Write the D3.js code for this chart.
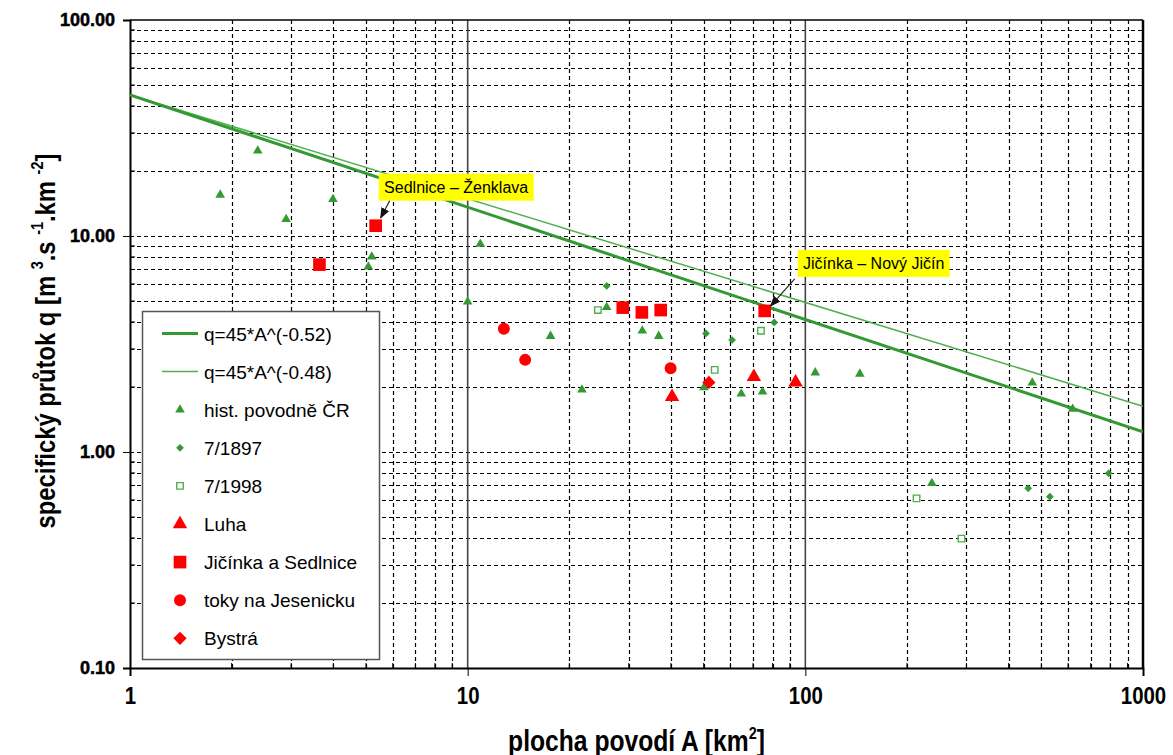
<!DOCTYPE html>
<html><head><meta charset="utf-8">
<script src="https://cdn.jsdelivr.net/npm/d3@7"></script>
<style>
body{margin:0;background:#fff;}
svg{display:block;}
</style></head>
<body>
<svg id="chart" width="1173" height="755"></svg>
<script>
// ---- data (A in km2, q in m3/s/km2) ----
const histA = [1.85, 2.39, 2.90, 3.99, 5.20, 5.08, 10.9, 10.0, 17.6, 21.8, 25.8, 32.9, 36.8, 50.1, 64.6, 74.7, 107, 145, 237, 470, 619];
const histQ = [15.5, 24.8, 11.95, 14.8, 8.02, 7.21, 9.18, 4.96, 3.44, 1.94, 4.68, 3.64, 3.44, 1.99, 1.86, 1.90, 2.33, 2.30, 0.716, 2.09, 1.58];
const y1897A = [25.8, 50.8, 60.7, 80.9, 457, 530, 791];
const y1897Q = [5.87, 3.54, 3.30, 3.98, 0.679, 0.621, 0.797];
const y1998A = [24.3, 53.9, 73.9, 213.5, 290];
const y1998Q = [4.54, 2.40, 3.64, 0.61, 0.397];
const luhaA = [40.3, 70.4, 93.6];
const luhaQ = [1.80, 2.23, 2.10];
const jicA = [3.64, 5.34, 28.8, 32.8, 37.3, 75.8];
const jicQ = [7.37, 11.16, 4.66, 4.43, 4.54, 4.50];
const jesA = [12.8, 14.8, 39.9];
const jesQ = [3.72, 2.67, 2.44];
const bysA = [51.8];
const bysQ = [2.10];
// envelope lines (end points)
const line052A = [1, 1000];
const line052Q = [45, 1.24];
const line048A = [1, 1000];
const line048Q = [45, 1.63];
// tick labels
const yTickVals = [0.1, 1, 10, 100];
const yTickLabels = ["0.10", "1.00", "10.00", "100.00"];
const xTickVals = [1, 10, 100, 1000];
const xTickLabels = ["1", "10", "100", "1000"];
const legendLabels = ["q=45*A^(-0.52)", "q=45*A^(-0.48)", "hist. povodně ČR", "7/1897", "7/1998", "Luha", "Jičínka a Sedlnice", "toky na Jesenicku", "Bystrá"];
const annotations = [
  {text: "Sedlnice – Ženklava", A: 5.34, q: 11.16},
  {text: "Jičínka – Nový Jičín", A: 75.8, q: 4.50}
];

const GREEN = "#339933", GREEN_L = "#4fae4f", RED = "#ff0000";
const FONT = "Liberation Sans, Arial, sans-serif";
const NARROW = 0.85;
const svg = d3.select("#chart");
const L = 130, R = 1143, T = 20, B = 668;
const x = d3.scaleLog().domain([1, 1000]).range([L, R]);
const y = d3.scaleLog().domain([0.1, 100]).range([B, T]);

// grid
const g = svg.append("g");
const xt = x.ticks();
const yt = y.ticks();
g.selectAll(".hg").data(yt.filter(v => v > 0.1 && v < 100)).enter().append("line")
  .attr("x1", L).attr("x2", R).attr("y1", d => Math.round(y(d)) + 0.5).attr("y2", d => Math.round(y(d)) + 0.5)
  .attr("stroke", "#000").attr("stroke-width", 1.2).attr("stroke-dasharray", "4,3");
g.selectAll(".vg").data(xt.filter(v => v > 1 && v < 1000 && ![10, 100].includes(v))).enter().append("line")
  .attr("y1", T).attr("y2", B).attr("x1", d => Math.round(x(d)) + 0.5).attr("x2", d => Math.round(x(d)) + 0.5)
  .attr("stroke", "#000").attr("stroke-width", 1.2).attr("stroke-dasharray", "4,3");
g.selectAll(".vd").data([10, 100]).enter().append("line")
  .attr("y1", T).attr("y2", B).attr("x1", d => x(d)).attr("x2", d => x(d))
  .attr("stroke", "#444").attr("stroke-width", 1.6);

// frame
svg.append("line").attr("x1", L).attr("x2", R).attr("y1", T).attr("y2", T).attr("stroke", "#000").attr("stroke-width", 1.6);
svg.append("line").attr("x1", R).attr("x2", R).attr("y1", T).attr("y2", B).attr("stroke", "#000").attr("stroke-width", 2.5);

// axes
const yAxis = d3.axisLeft(y).tickValues(yTickVals).tickFormat((d, i) => yTickLabels[i]).tickSize(7).tickPadding(8);
const ya = svg.append("g").attr("transform", `translate(${L},0)`).call(yAxis);
ya.select(".domain").attr("stroke-width", 2);
ya.selectAll("text").attr("font-family", FONT).attr("font-weight", "bold").attr("font-size", 18)
  .attr("fill", "#000").attr("stroke", "#000").attr("stroke-width", 0.5);
// minor y ticks (inside)
svg.append("g").selectAll("line").data(yt.filter(v => !yTickVals.includes(v))).enter().append("line")
  .attr("x1", L).attr("x2", L + 5).attr("y1", d => y(d)).attr("y2", d => y(d)).attr("stroke", "#000").attr("stroke-width", 1);

const xAxis = d3.axisBottom(x).tickValues(xTickVals).tickFormat((d, i) => xTickLabels[i]).tickSize(8).tickPadding(11);
const xa = svg.append("g").attr("transform", `translate(0,${B})`).call(xAxis);
xa.select(".domain").attr("stroke-width", 2);
xa.selectAll("text").attr("font-family", FONT).attr("font-weight", "bold").attr("font-size", 24).attr("fill", "#000")
  .attr("transform", `scale(${NARROW},1)`);
svg.append("g").selectAll("line").data(xt.filter(v => !xTickVals.includes(v))).enter().append("line")
  .attr("y1", B).attr("y2", B - 5).attr("x1", d => x(d)).attr("x2", d => x(d)).attr("stroke", "#000").attr("stroke-width", 1);

// axis titles
const xt1 = svg.append("g").attr("transform", `translate(${(L + R) / 2},751) scale(${NARROW},1)`)
  .append("text").attr("text-anchor", "middle")
  .attr("font-family", FONT).attr("font-weight", "bold").attr("font-size", 29);
xt1.append("tspan").text("plocha povodí A [km");
xt1.append("tspan").attr("dy", -12).attr("font-size", 17).text("2");
xt1.append("tspan").attr("dy", 12).text("]");

const yt1 = svg.append("g").attr("transform", `translate(55,341) rotate(-90) scale(${NARROW},1)`)
  .append("text").attr("text-anchor", "middle")
  .attr("font-family", FONT).attr("font-weight", "bold").attr("font-size", 28);
yt1.append("tspan").text("specifický průtok q [m ");
yt1.append("tspan").attr("dy", -12).attr("font-size", 17).text("3");
yt1.append("tspan").attr("dy", 12).text(".s ");
yt1.append("tspan").attr("dy", -12).attr("font-size", 17).text("-1");
yt1.append("tspan").attr("dy", 12).text(".km ");
yt1.append("tspan").attr("dy", -12).attr("font-size", 17).text("-2");
yt1.append("tspan").attr("dy", 12).text("]");

// clip
svg.append("clipPath").attr("id", "clip").append("rect").attr("x", L).attr("y", T).attr("width", R - L).attr("height", B - T);
const plot = svg.append("g").attr("clip-path", "url(#clip)");

const lineGen = d3.line().x(d => x(d[0])).y(d => y(d[1]));
plot.append("path").attr("d", lineGen(d3.zip(line048A, line048Q))).attr("stroke", GREEN_L).attr("stroke-width", 1.5).attr("fill", "none");
plot.append("path").attr("d", lineGen(d3.zip(line052A, line052Q))).attr("stroke", GREEN).attr("stroke-width", 3).attr("fill", "none");

// marker styles
const styles = {
  hist: {type: d3.symbolTriangle, size: 40, fill: GREEN, stroke: "none", rot: 0},
  y1897: {type: d3.symbolSquare, size: 30, fill: GREEN, stroke: "none", rot: 45},
  y1998: {type: d3.symbolSquare, size: 42, fill: "#fff", stroke: GREEN_L, rot: 0},
  luha: {type: d3.symbolTriangle, size: 90, fill: RED, stroke: "none", rot: 0},
  jic: {type: d3.symbolSquare, size: 160, fill: RED, stroke: "none", rot: 0},
  jes: {type: d3.symbolCircle, size: 113, fill: RED, stroke: "none", rot: 0},
  bys: {type: d3.symbolSquare, size: 88, fill: RED, stroke: "none", rot: 45}
};
function drawSeries(parent, A, Q, st) {
  parent.append("g").selectAll("path").data(d3.zip(A, Q)).enter().append("path")
    .attr("d", d3.symbol().type(st.type).size(st.size))
    .attr("transform", d => `translate(${x(d[0])},${y(d[1])}) rotate(${st.rot})`)
    .attr("fill", st.fill).attr("stroke", st.stroke).attr("stroke-width", 1.4);
}
drawSeries(svg, histA, histQ, styles.hist);
drawSeries(svg, y1897A, y1897Q, styles.y1897);
drawSeries(svg, y1998A, y1998Q, styles.y1998);
drawSeries(svg, luhaA, luhaQ, styles.luha);
drawSeries(svg, jicA, jicQ, styles.jic);
drawSeries(svg, jesA, jesQ, styles.jes);
drawSeries(svg, bysA, bysQ, styles.bys);

// annotations
const defs = svg.append("defs");
defs.append("marker").attr("id", "arr").attr("viewBox", "0 0 10 10").attr("refX", 9).attr("refY", 5)
  .attr("markerWidth", 9).attr("markerHeight", 9).attr("orient", "auto-start-reverse")
  .append("path").attr("d", "M0,1 L10,5 L0,9 Z").attr("fill", "#111");
const annOffsets = [
  {bx: 3, by: -52, w: 155, h: 27, ax0: 14, ay0: -25, ax1: 5, ay1: -8},
  {bx: 33, by: -61, w: 152, h: 27, ax0: 30, ay0: -32, ax1: 6, ay1: -5}
];
annotations.forEach((a, i) => {
  const px = x(a.A), py = y(a.q), o = annOffsets[i];
  svg.append("rect").attr("x", px + o.bx).attr("y", py + o.by).attr("width", o.w).attr("height", o.h).attr("fill", "#ffff00");
  svg.append("text").attr("x", px + o.bx + o.w / 2).attr("y", py + o.by + 19).attr("text-anchor", "middle")
    .attr("font-family", FONT).attr("font-size", 16).attr("fill", "#000").text(a.text);
  svg.append("line").attr("x1", px + o.ax0).attr("y1", py + o.ay0).attr("x2", px + o.ax1).attr("y2", py + o.ay1)
    .attr("stroke", "#222").attr("stroke-width", 1.2).attr("marker-end", "url(#arr)");
});

// legend
const lg = svg.append("g");
lg.append("rect").attr("x", 142.5).attr("y", 311.5).attr("width", 237).attr("height", 348).attr("fill", "#fff").attr("stroke", "#555").attr("stroke-width", 1.5);
const rowY = i => 333.5 + i * 38.1;
lg.append("line").attr("x1", 162).attr("x2", 198).attr("y1", rowY(0)).attr("y2", rowY(0)).attr("stroke", GREEN).attr("stroke-width", 3);
lg.append("line").attr("x1", 162).attr("x2", 198).attr("y1", rowY(1)).attr("y2", rowY(1)).attr("stroke", GREEN_L).attr("stroke-width", 1.5);
const legStyles = [styles.hist, styles.y1897, styles.y1998, styles.luha, styles.jic, styles.jes, styles.bys];
legStyles.forEach((st, i) => {
  lg.append("path").attr("d", d3.symbol().type(st.type).size(st.size))
    .attr("transform", `translate(180,${rowY(i + 2)}) rotate(${st.rot})`)
    .attr("fill", st.fill).attr("stroke", st.stroke).attr("stroke-width", 1.4);
});
legendLabels.forEach((t, i) => {
  lg.append("text").attr("x", 204).attr("y", rowY(i) + 7).attr("font-family", FONT)
    .attr("font-size", 19).attr("fill", "#000").text(t);
});
</script>
</body></html>
